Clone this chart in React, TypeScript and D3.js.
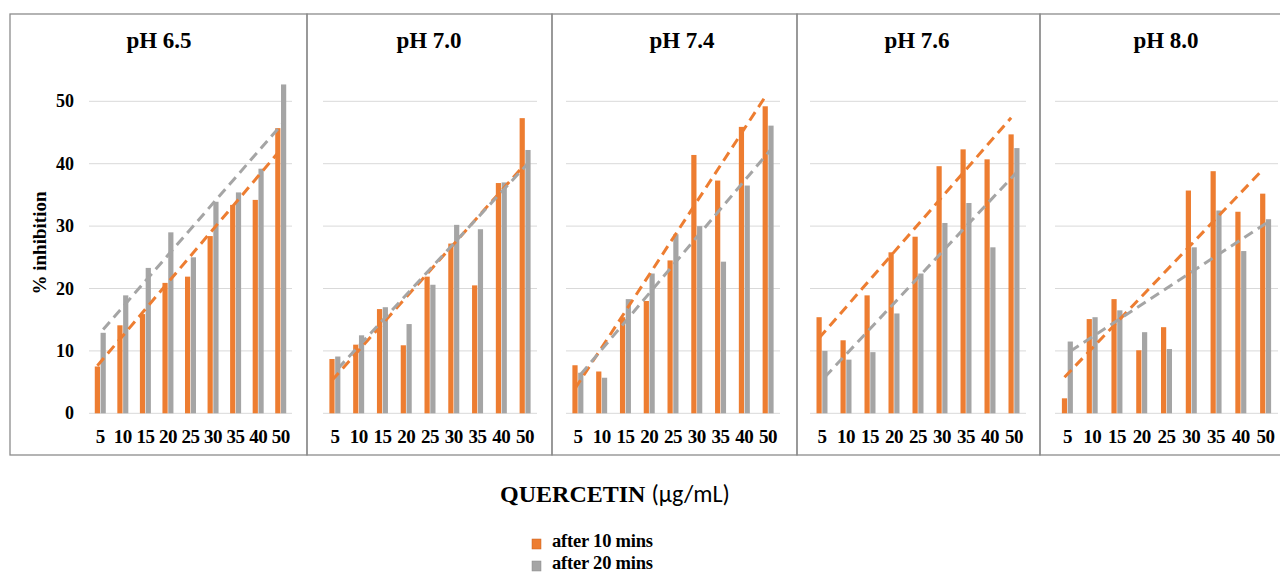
import React from 'react';
import * as d3 from 'd3';

// quercetin concentration (µg/mL)
const concentrations = ['5', '10', '15', '20', '25', '30', '35', '40', '50'];
const phLabels = ['pH 6.5', 'pH 7.0', 'pH 7.4', 'pH 7.6', 'pH 8.0'];
const yTicks = [0, 10, 20, 30, 40, 50];

// % inhibition after 10 mins
const after10_ph65 = [7.5, 14.1, 15.9, 20.9, 21.9, 28.4, 33.4, 34.2, 45.7];
const after10_ph70 = [8.7, 11.0, 16.7, 10.9, 21.9, 27.2, 20.5, 36.9, 47.3];
const after10_ph74 = [7.7, 6.7, 15.4, 18.0, 24.5, 41.4, 37.3, 45.9, 49.2];
const after10_ph76 = [15.4, 11.7, 18.9, 25.8, 28.3, 39.6, 42.3, 40.7, 44.7];
const after10_ph80 = [2.4, 15.1, 18.3, 10.1, 13.8, 35.7, 38.8, 32.3, 35.2];

// % inhibition after 20 mins
const after20_ph65 = [12.9, 18.9, 23.3, 29.0, 25.0, 33.9, 35.4, 39.2, 52.7];
const after20_ph70 = [9.1, 12.5, 17.0, 14.3, 20.6, 30.2, 29.5, 37.0, 42.2];
const after20_ph74 = [6.5, 5.7, 18.3, 22.4, 28.7, 30.0, 24.3, 36.5, 46.1];
const after20_ph76 = [10.0, 8.6, 9.8, 16.0, 22.4, 30.5, 33.7, 26.6, 42.5];
const after20_ph80 = [11.5, 15.4, 16.5, 13.0, 10.3, 26.6, 32.5, 26.0, 31.1];

const after10 = [after10_ph65, after10_ph70, after10_ph74, after10_ph76, after10_ph80];
const after20 = [after20_ph65, after20_ph70, after20_ph74, after20_ph76, after20_ph80];

const ORANGE = '#ED7D31';
const GRAY = '#A5A5A5';
const SERIF = '"Liberation Serif", "Times New Roman", serif';

// panel frames: border x-range, plot x-range, title centre
const frames = [
  { b0: 10, b1: 307, p0: 89, p1: 292, t: 159 },
  { b0: 307, b1: 552, p0: 323, p1: 537, t: 429 },
  { b0: 552, b1: 797, p0: 566, p1: 780, t: 682 },
  { b0: 797, b1: 1040, p0: 810, p1: 1026, t: 917 },
  { b0: 1040, b1: 1284, p0: 1055, p1: 1278, t: 1166 },
];

// least squares line over category index 1..n (like an Excel linear trendline)
function linFit(vals: number[]) {
  const xs = vals.map((_, i) => i + 1);
  const mx = d3.mean(xs)!;
  const my = d3.mean(vals)!;
  let num = 0, den = 0;
  xs.forEach((x, i) => { num += (x - mx) * (vals[i] - my); den += (x - mx) ** 2; });
  const b = num / den;
  return (x: number) => my + b * (x - mx);
}

const y = d3.scaleLinear().domain([0, 50]).range([413.3, 101.3]);

function Panel({ idx }: { idx: number }) {
  const f = frames[idx];
  const x0 = d3.scaleBand().domain(concentrations).range([f.p0, f.p1]);
  const x1 = d3.scaleBand().domain(['a', 'b']).range([0, 11]).paddingInner(0.1);
  const off = (x0.bandwidth() - 11) / 2;
  const series = [
    { key: 'a', vals: after10[idx], color: ORANGE },
    { key: 'b', vals: after20[idx], color: GRAY },
  ];
  return (
    <g>
      <rect x={f.b0} y={14} width={f.b1 - f.b0} height={441} fill="none" stroke="#8c8c8c" strokeWidth={1.3} />
      <text x={f.t} y={48} textAnchor="middle" fontFamily={SERIF} fontWeight="bold" fontSize={23}>{phLabels[idx]}</text>
      {yTicks.map(t => (
        <line key={t} x1={f.p0} x2={f.p1} y1={y(t)} y2={y(t)} stroke="#d9d9d9" strokeWidth={1} />
      ))}
      {series.map(s => s.vals.map((v, i) => (
        <rect key={s.key + i} x={x0(concentrations[i])! + off + x1(s.key)!} y={y(v)}
          width={x1.bandwidth()} height={y(0) - y(v)} fill={s.color} />
      )))}
      {series.map(s => {
        const fit = linFit(s.vals);
        const n = s.vals.length;
        const cx = (i: number) => x0(concentrations[i])! + off + x1(s.key)! + x1.bandwidth() / 2;
        return (
          <line key={'t' + s.key} x1={cx(0)} y1={y(fit(1))} x2={cx(n - 1)} y2={y(fit(n))}
            stroke={s.color} strokeWidth={3} strokeDasharray="10 6" />
        );
      })}
      {concentrations.map(c => (
        <text key={c} x={x0(c)! + x0.bandwidth() / 2} y={443} textAnchor="middle"
          fontFamily={SERIF} fontWeight="bold" fontSize={19} letterSpacing={-0.5}>{c}</text>
      ))}
    </g>
  );
}

export default function App() {
  return (
    <svg width={1280} height={572} style={{ position: 'absolute', left: 0, top: 0, background: '#fff' }}>
      {phLabels.map((_, i) => <Panel key={i} idx={i} />)}
      {yTicks.map(t => (
        <text key={t} x={74} y={y(t) + 6} textAnchor="end" fontFamily={SERIF} fontWeight="bold" fontSize={18}>{t}</text>
      ))}
      <text transform="translate(46,243) rotate(-90)" textAnchor="middle" fontFamily={SERIF} fontWeight="bold" fontSize={19}>% inhibition</text>
      <text x={615} y={502} textAnchor="middle" fontSize={24}>
        <tspan fontFamily={SERIF} fontWeight="bold">QUERCETIN </tspan>
        <tspan fontFamily={'Carlito, "Liberation Sans", sans-serif'}>(µg/mL)</tspan>
      </text>
      <rect x={532} y={539} width={9} height={10} fill={ORANGE} stroke="#c86020" strokeWidth={0.5} />
      <text x={552} y={547} fontFamily={SERIF} fontWeight="bold" fontSize={18.5} letterSpacing={-0.2}>after 10 mins</text>
      <rect x={532} y={561} width={9} height={10} fill={GRAY} stroke="#8a8a8a" strokeWidth={0.5} />
      <text x={552} y={569} fontFamily={SERIF} fontWeight="bold" fontSize={18.5} letterSpacing={-0.2}>after 20 mins</text>
    </svg>
  );
}
